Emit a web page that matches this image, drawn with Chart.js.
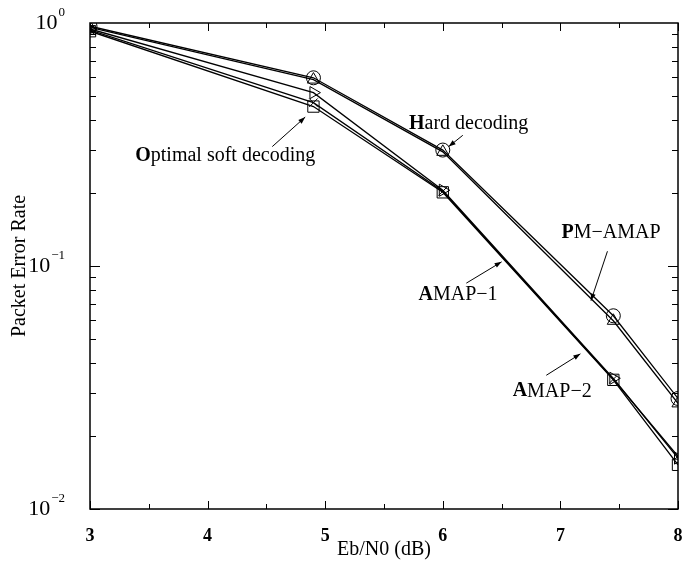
<!DOCTYPE html>
<html>
<head>
<meta charset="utf-8">
<script src="https://cdn.jsdelivr.net/npm/chart.js@4"></script>
<style>
  body { margin: 0; background: #fff; }
  #chart { display: block; }
</style>
</head>
<body>
<canvas id="chart" width="687" height="562"></canvas>
<script>
// 데이터
const ebN0 = [3, 4.9, 6, 7.45, 8];
const hardDecoding = [0.97, 0.595, 0.30, 0.0624, 0.0285];
const pmAmap = [0.96, 0.585, 0.295, 0.0595, 0.0272];
const amap1 = [0.945, 0.517, 0.205, 0.0345, 0.0162];
const amap2 = [0.935, 0.47, 0.203, 0.0342, 0.0165];
const optimalSoft = [0.925, 0.453, 0.201, 0.0340, 0.0152];

const xTicks = [3, 3.5, 4, 4.5, 5, 5.5, 6, 6.5, 7, 7.5, 8];
const xLabels = [3, 4, 5, 6, 7, 8];
const yDecades = [1, 0.1, 0.01];
const yDecadeLabels = ['0', '\u22121', '\u22122'];

// 주석 (텍스트 위치와 화살표는 데이터 좌표)
const notes = [
  { text: 'Hard decoding', x: 6.22, y: 0.385, from: [6.17, 0.345], to: [6.05, 0.31] },
  { text: 'Optimal soft decoding', x: 4.15, y: 0.285, from: [4.55, 0.31], to: [4.83, 0.41] },
  { text: 'PM\u2212AMAP', x: 7.43, y: 0.137, from: [7.4, 0.115], to: [7.26, 0.072] },
  { text: 'AMAP\u22121', x: 6.13, y: 0.076, from: [6.2, 0.085], to: [6.5, 0.104] },
  { text: 'AMAP\u22122', x: 6.93, y: 0.0305, from: [6.88, 0.0355], to: [7.17, 0.0435] }
];

const serif = "'Liberation Serif', 'DejaVu Serif', serif";

function series(values) {
  return values.map((v, i) => ({ x: ebN0[i], y: v }));
}

const lineBase = {
  borderColor: '#000',
  borderWidth: 1.3,
  pointBorderColor: '#000',
  pointBackgroundColor: 'rgba(0,0,0,0)',
  pointBorderWidth: 1,
  tension: 0,
  fill: false
};

// 프레임, 안쪽 눈금, 축 라벨, 주석
const frameTicks = {
  id: 'frameTicks',
  afterDatasetsDraw(chart) {
    const { ctx, chartArea: a, scales: { x, y } } = chart;
    ctx.save();
    ctx.strokeStyle = '#000';
    ctx.lineWidth = 1;
    xTicks.forEach(v => {
      const px = Math.round(x.getPixelForValue(v)) + 0.5;
      const len = Number.isInteger(v) ? 8 : 5;
      ctx.beginPath();
      ctx.moveTo(px, a.bottom); ctx.lineTo(px, a.bottom - len);
      ctx.moveTo(px, a.top); ctx.lineTo(px, a.top + len);
      ctx.stroke();
    });
    [0.1, 0.01].forEach(dec => {
      for (let m = 1; m <= 9; m++) {
        const v = dec * m;
        if (v >= 1) continue;
        const py = Math.round(y.getPixelForValue(v)) + 0.5;
        const len = m === 1 ? 10 : 6;
        ctx.beginPath();
        ctx.moveTo(a.left, py); ctx.lineTo(a.left + len, py);
        ctx.moveTo(a.right, py); ctx.lineTo(a.right - len, py);
        ctx.stroke();
      }
    });
    ctx.lineWidth = 1.5;
    ctx.strokeRect(a.left, a.top, a.right - a.left, a.bottom - a.top);

    ctx.fillStyle = '#000';
    ctx.textBaseline = 'middle';
    yDecades.forEach((v, i) => {
      const py = y.getPixelForValue(v);
      ctx.font = '13px ' + serif;
      const ew = ctx.measureText(yDecadeLabels[i]).width;
      ctx.textAlign = 'left';
      ctx.fillText(yDecadeLabels[i], a.left - 25 - ew, py - 10);
      ctx.font = '22px ' + serif;
      ctx.textAlign = 'right';
      ctx.fillText('10', a.left - 26 - ew, py);
    });

    ctx.font = 'bold 18px ' + serif;
    ctx.textAlign = 'center';
    xLabels.forEach(v => {
      ctx.fillText(String(v), x.getPixelForValue(v), a.bottom + 27);
    });

    // 주석
    ctx.lineWidth = 1;
    notes.forEach(n => {
      const tx = x.getPixelForValue(n.x), ty = y.getPixelForValue(n.y);
      ctx.font = 'bold 20px ' + serif;
      const first = n.text[0];
      const fw = ctx.measureText(first).width;
      ctx.font = '20px ' + serif;
      const rest = n.text.slice(1);
      const rw = ctx.measureText(rest).width;
      const left = tx - (fw + rw) / 2;
      ctx.textAlign = 'left';
      ctx.font = 'bold 20px ' + serif;
      ctx.fillText(first, left, ty);
      ctx.font = '20px ' + serif;
      ctx.fillText(rest, left + fw, ty);

      const x0 = x.getPixelForValue(n.from[0]), y0 = y.getPixelForValue(n.from[1]);
      const x1 = x.getPixelForValue(n.to[0]), y1 = y.getPixelForValue(n.to[1]);
      const ang = Math.atan2(y1 - y0, x1 - x0);
      ctx.beginPath();
      ctx.moveTo(x0, y0); ctx.lineTo(x1, y1);
      ctx.stroke();
      ctx.beginPath();
      ctx.moveTo(x1, y1);
      ctx.lineTo(x1 - 7 * Math.cos(ang) + 2.5 * Math.sin(ang), y1 - 7 * Math.sin(ang) - 2.5 * Math.cos(ang));
      ctx.lineTo(x1 - 7 * Math.cos(ang) - 2.5 * Math.sin(ang), y1 - 7 * Math.sin(ang) + 2.5 * Math.cos(ang));
      ctx.closePath();
      ctx.fill();
    });
    ctx.restore();
  }
};

new Chart(document.getElementById('chart'), {
  type: 'line',
  data: {
    datasets: [
      { ...lineBase, label: 'Hard decoding', data: series(hardDecoding), pointStyle: 'circle', pointRadius: 7 },
      { ...lineBase, label: 'PM-AMAP', data: series(pmAmap), pointStyle: 'triangle', pointRadius: 7 },
      { ...lineBase, label: 'AMAP-1', data: series(amap1), pointStyle: 'triangle', pointRotation: 90, pointRadius: 7 },
      { ...lineBase, label: 'AMAP-2', data: series(amap2), pointStyle: 'crossRot', pointRadius: 6 },
      { ...lineBase, label: 'Optimal soft decoding', data: series(optimalSoft), pointStyle: 'rect', pointRadius: 8 }
    ]
  },
  options: {
    responsive: false,
    animation: false,
    devicePixelRatio: 1,
    layout: { padding: { top: 23, right: 8, left: 0, bottom: 0 } },
    plugins: { legend: { display: false }, tooltip: { enabled: false } },
    scales: {
      x: {
        type: 'linear',
        min: 3, max: 8,
        afterFit(scale) { scale.height = 53; },
        grid: { display: false, drawTicks: false },
        border: { display: false },
        ticks: { display: false },
        title: {
          display: true,
          text: 'Eb/N0 (dB)',
          color: '#000',
          font: { family: serif, size: 20 },
          padding: { top: 0, bottom: 0 }
        }
      },
      y: {
        type: 'logarithmic',
        min: 0.01, max: 1,
        afterFit(scale) { scale.width = 90; },
        grid: { display: false, drawTicks: false },
        border: { display: false },
        ticks: { display: false },
        title: {
          display: true,
          text: 'Packet Error Rate',
          color: '#000',
          font: { family: serif, size: 20 },
          padding: { top: 8, bottom: 0 }
        }
      }
    }
  },
  plugins: [frameTicks]
});
</script>
</body>
</html>
